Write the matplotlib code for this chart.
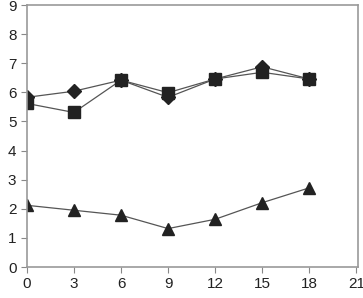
import matplotlib
matplotlib.use("Agg")
import matplotlib.pyplot as plt

plt.rcParams['font.family'] = ['Liberation Sans', 'DejaVu Sans']

# sampling times
x = [0, 3, 6, 9, 12, 15, 18]

# series
diamond = [5.83, 6.04, 6.42, 5.83, 6.46, 6.88, 6.46]
square = [5.62, 5.31, 6.42, 5.99, 6.46, 6.69, 6.46]
triangle = [2.12, 1.95, 1.78, 1.32, 1.64, 2.21, 2.72]

xticks = [0, 3, 6, 9, 12, 15, 18, 21]
yticks = list(range(0, 10))

fig = plt.figure(figsize=(3.63, 2.98), dpi=100)
ax = fig.add_axes([0.074, 0.104, 0.912, 0.879])

lc = '#555555'
mc = '#222222'
ax.plot(x, diamond, color=lc, lw=0.9, marker='D', ms=7, mfc=mc, mec=mc)
ax.plot(x, square, color=lc, lw=0.9, marker='s', ms=8, mfc=mc, mec=mc)
ax.plot(x, triangle, color=lc, lw=0.9, marker='^', ms=9, mfc=mc, mec=mc)

ax.set_xlim(0, 21.1)
ax.set_ylim(0, 9)
ax.set_xticks(xticks)
ax.set_yticks(yticks)
ax.tick_params(direction='out', length=4, width=0.8, color='#888888',
               labelsize=11, labelcolor='#222222')
for s in ax.spines.values():
    s.set_color('#999999')
    s.set_linewidth(1.2)

fig.savefig('out.png', dpi=100)
